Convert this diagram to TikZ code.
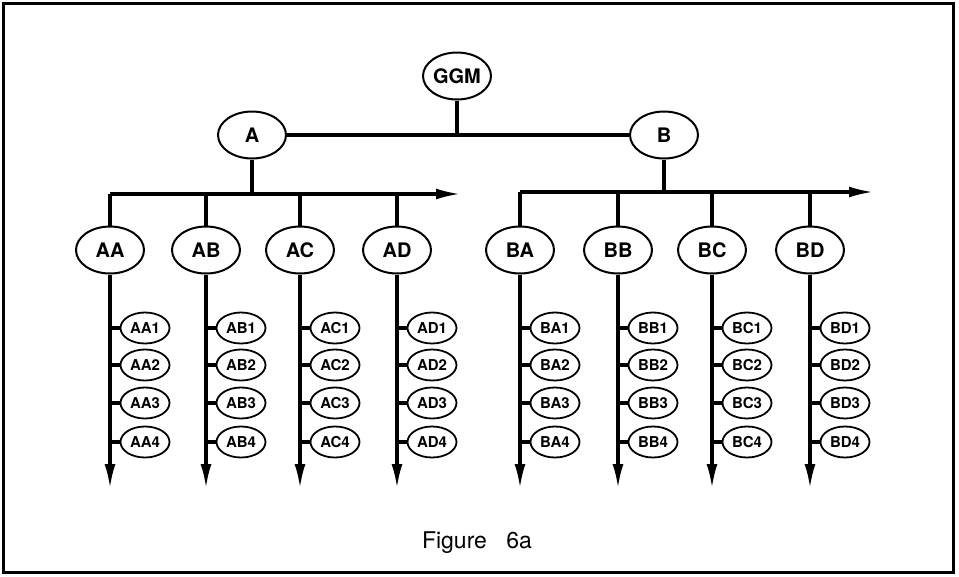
\documentclass[tikz,border=0pt]{standalone}
\usepackage{fontspec}
\setmainfont{TeX Gyre Heros}
\usetikzlibrary{arrows.meta,shapes.geometric}

\begin{document}
\begin{tikzpicture}[x=1pt,y=-1pt,>={Latex[length=25pt,width=11pt]},
  big/.style={draw,ellipse,line width=2pt,minimum width=68pt,minimum height=47pt,inner sep=0pt,font=\fontsize{20}{20}\selectfont\bfseries},
  leaf/.style={draw,ellipse,line width=1.8pt,minimum width=49pt,minimum height=31pt,inner sep=0pt,font=\fontsize{15}{15}\selectfont\bfseries},
  wire/.style={line width=3.4pt}]
\useasboundingbox (0,0) rectangle (959,576);
\draw[line width=3pt] (3.5,3) rectangle (953,572);

\node[big] (ggm) at (457,76) {GGM};
\node[big] (a) at (252,135) {A};
\node[big] (b) at (664,135) {B};
\draw[wire] (a) -- (b);
\draw[wire] (ggm) -- (ggm |- a);

\coordinate (abus) at (110,194);
\coordinate (aend) at (461,194);
\coordinate (bbus) at (520,192);
\coordinate (bend) at (874,192);
\draw[wire] (a) -- (a |- abus);
\draw[wire] (b) -- (b |- bbus);
\draw[wire,->] (abus) -- (aend);
\draw[wire,->] (bbus) -- (bend);

\foreach \n/\t/\x/\bus in {aa/AA/110/abus,ab/AB/206/abus,ac/AC/300/abus,ad/AD/397/abus,
                         ba/BA/520/bbus,bb/BB/618/bbus,bc/BC/712/bbus,bd/BD/810/bbus}{
  \node[big] (\n) at (\x,250) {\t};
  \coordinate (\n end) at (\x,489);
  \draw[wire] (\n |- \bus) -- (\n);
  \draw[wire,->] (\n) -- (\n end);
  \foreach \i/\y in {1/328,2/365,3/403,4/442}{
    \node[leaf] (\n\i) at (\x+35,\y) {\t\i};
    \draw[wire] (\n\i) -- (\n\i -| \n);
  }
}

\node[font=\fontsize{23}{23}\selectfont] (cap) at (477,543) {Figure\hspace{13pt} 6a};
\end{tikzpicture}
\end{document}
